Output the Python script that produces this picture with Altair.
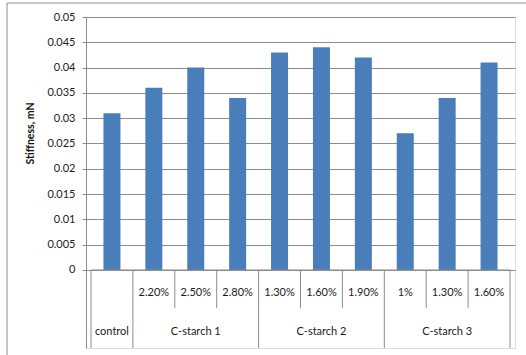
import altair as alt
import pandas as pd

# Stiffness of the control and the three C-starch treatments
sublabels = ["", "2.20%", "2.50%", "2.80%", "1.30%", "1.60%", "1.90%", "1%", "1.30%", "1.60%"]
stiffness = [0.031, 0.036, 0.040, 0.034, 0.043, 0.044, 0.042, 0.027, 0.034, 0.041]
y_ticks = [0, 0.005, 0.01, 0.015, 0.02, 0.025, 0.03, 0.035, 0.04, 0.045, 0.05]

groups = ["control", "C-starch 1", "C-starch 2", "C-starch 3"]
group_start = [0, 1, 4, 7]
group_end = [1, 4, 7, 10]

BLUE = "#4A7EBB"
GRID = "#8C8C8C"
FONT = "Lato"

Y_MIN = -0.01542          # room under the zero line for the category table
ROW1_END = -0.0075        # bottom of the sub-label row
ROW1_TEXT = -0.00455
ROW2_TEXT = -0.01225

bars = pd.DataFrame({
    "pos": [i + 0.5 for i in range(len(stiffness))],
    "stiffness": stiffness,
    "sub": sublabels,
})

grp = pd.DataFrame({
    "group": groups,
    "start": group_start,
    "end": group_end,
})
grp["mid"] = (grp["start"] + grp["end"]) / 2

# separators: full height at group boundaries, short ones between sub-labels
full_edges = sorted(set(group_start + group_end))
short_edges = [i for i in range(1, len(stiffness)) if i not in full_edges]
seps = pd.DataFrame(
    [{"x": e, "y": 0, "y2": Y_MIN} for e in full_edges]
    + [{"x": e, "y": 0, "y2": ROW1_END} for e in short_edges]
)

x_scale = alt.Scale(domain=[0, len(stiffness)], nice=False, zero=False)
y_scale = alt.Scale(domain=[Y_MIN, 0.05], nice=False, zero=False)

y_axis = alt.Axis(
    values=y_ticks,
    title="Stiffness, mN",
    titleFont=FONT,
    titleFontSize=10.5,
    titleFontWeight="bold",
    titleColor="#111",
    titleAngle=270,
    titleAlign="center",
    titleBaseline="middle",
    titleX=-56,
    titleY=116,
    labelFont=FONT,
    labelFontSize=11,
    labelColor="#1a1a1a",
    labelPadding=7,
    labelOverlap=False,
    tickSize=4,
    tickColor=GRID,
    domainColor=GRID,
    gridColor=GRID,
    gridWidth=1,
    labelExpr="datum.value == 0 ? '0' : format(datum.value, '.3~f')",
)


def yenc(field):
    return alt.Y(field, scale=y_scale, axis=y_axis)


bar_layer = alt.Chart(bars).mark_bar(color=BLUE, size=17).encode(
    x=alt.X("pos:Q", scale=x_scale, axis=None),
    y=yenc("stiffness:Q"),
)

zero_line = alt.Chart(pd.DataFrame({"a": [0], "b": [len(stiffness)], "y": [0]})).mark_rule(
    color=GRID, strokeWidth=1
).encode(
    x=alt.X("a:Q", scale=x_scale, axis=None),
    x2="b:Q",
    y=yenc("y:Q"),
)

sep_layer = alt.Chart(seps).mark_rule(color=GRID, strokeWidth=1).encode(
    x=alt.X("x:Q", scale=x_scale, axis=None),
    y=yenc("y:Q"),
    y2="y2:Q",
)

sub_text = alt.Chart(bars.assign(ty=ROW1_TEXT)).mark_text(
    font=FONT, fontSize=11, color="#1a1a1a", baseline="middle"
).encode(
    x=alt.X("pos:Q", scale=x_scale, axis=None),
    y=yenc("ty:Q"),
    text="sub:N",
)

group_text = alt.Chart(grp.assign(ty=ROW2_TEXT)).mark_text(
    font=FONT, fontSize=11, color="#1a1a1a", baseline="middle"
).encode(
    x=alt.X("mid:Q", scale=x_scale, axis=None),
    y=yenc("ty:Q"),
    text="group:N",
)

# light frame around the chart area
frame = alt.Chart(pd.DataFrame({"k": [0]})).mark_rect(
    fill=None, stroke=GRID, strokeWidth=1
).encode(
    x=alt.value(-79), x2=alt.value(445), y=alt.value(-14), y2=alt.value(345)
)

chart = (
    alt.layer(bar_layer, frame, zero_line, sep_layer, sub_text, group_text)
    .properties(
        width=429,
        height=331,
        autosize=alt.AutoSizeParams(type="none"),
        padding={"left": 86, "top": 17, "right": 11, "bottom": 7},
    )
    .configure_view(stroke=None)
    .configure(background="white")
)

chart.save("out.html", embed_options={"renderer": "svg", "actions": False})
